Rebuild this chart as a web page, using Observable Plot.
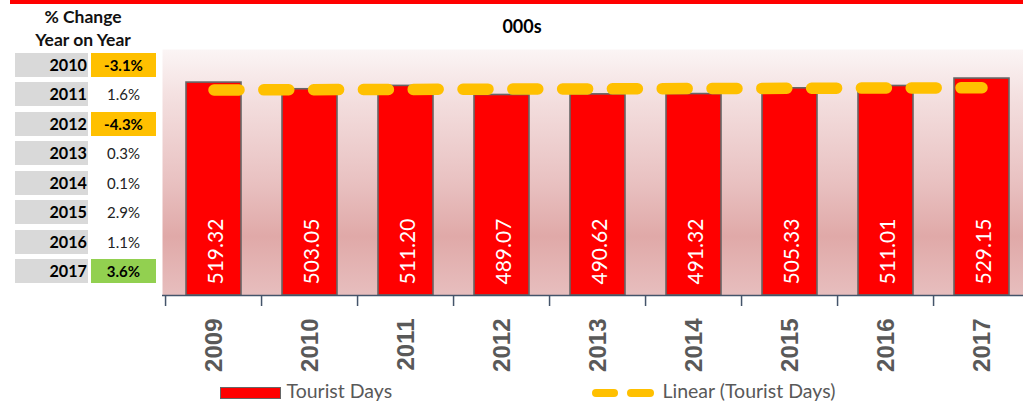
<!DOCTYPE html>
<html>
<head>
<meta charset="utf-8">
<script src="https://cdn.jsdelivr.net/npm/d3@7"></script>
<script src="https://cdn.jsdelivr.net/npm/@observablehq/plot@0.6"></script>
<style>
  html, body { margin: 0; padding: 0; background: #fff; }
  #wrap { position: relative; width: 1023px; height: 401px; overflow: hidden; font-family: Lato, "Open Sans", sans-serif; }
  .abs { position: absolute; }
  #stripe { left: 10px; top: 0; width: 1013px; height: 3.5px; background: #ff0000; }
  #title { left: 472px; width: 100px; top: 15px; text-align: center; font-weight: bold; font-size: 18px; line-height: 22px; color: #000; }
  #head { left: 13px; width: 140px; top: 6px; text-align: center; font-weight: bold; font-size: 17.5px; line-height: 22.5px; color: #111; }
  .cell { position: absolute; height: 24px; line-height: 24px; font-size: 15px; }
  .yr { left: 15px; width: 72.5px; background: #d9d9d9; text-align: right; font-weight: bold; color: #000; box-sizing: border-box; padding-right: 0.5px; font-size: 16.2px; }
  .val { left: 91px; width: 65px; text-align: center; color: #222; }
  .legtext { font-size: 19.5px; color: #595959; line-height: 20px; white-space: nowrap; }
  #plot { left: 0; top: 0; }
</style>
</head>
<body>
<div id="wrap">
  <div id="plot" class="abs"></div>
  <div id="stripe" class="abs"></div>
  <div id="title" class="abs">000s</div>
  <div id="head" class="abs">% Change<br>Year on Year</div>
  <div id="table"></div>
  <div id="legend"></div>
</div>
<script>
// ---- data ----
const years = ["2009", "2010", "2011", "2012", "2013", "2014", "2015", "2016", "2017"];
const touristDays = [519.32, 503.05, 511.20, 489.07, 490.62, 491.32, 505.33, 511.01, 529.15];
const trendYears = ["2009", "2017"];
const trendValues = [501.3, 506.7];
const changeYears = ["2010", "2011", "2012", "2013", "2014", "2015", "2016", "2017"];
const changeLabels = ["-3.1%", "1.6%", "-4.3%", "0.3%", "0.1%", "2.9%", "1.1%", "3.6%"];
const changeHighlight = ["orange", "", "orange", "", "", "", "", "green"];

const data = years.map((y, i) => ({year: y, value: touristDays[i], label: touristDays[i].toFixed(2)}));
const trend = trendYears.map((y, i) => ({year: y, value: trendValues[i]}));

// ---- layout ----
const W = 1023, H = 380;
const xRange = [162, 1034];
const step = (xRange[1] - xRange[0]) / years.length;

const chart = Plot.plot({
  width: W,
  height: H,
  marginTop: 49,
  marginBottom: 85,
  marginLeft: 162,
  marginRight: 0,
  style: {background: "transparent", overflow: "visible", fontFamily: "Lato, sans-serif"},
  x: {type: "band", domain: years, range: xRange, paddingInner: 0.426, paddingOuter: 0.213, axis: null},
  y: {domain: [0, 600], axis: null},
  marks: [
    Plot.frame({fill: "url(#bgGrad)", stroke: "none"}),
    Plot.barY(data, {x: "year", y: "value", fill: "#ff0000", stroke: "#666666", strokeWidth: 1.6}),
    Plot.text(data, {x: "year", text: "label", frameAnchor: "bottom", dy: -11, dx: 2, rotate: -90,
      textAnchor: "start", lineAnchor: "middle", fill: "#ffffff", fontSize: 21, fontFamily: "Lato, sans-serif"}),
    Plot.line(trend, {x: "year", y: "value", stroke: "#ffc000", strokeWidth: 11.5,
      strokeDasharray: "25,24.8", strokeLinecap: "round"}),
    Plot.ruleY([0], {stroke: "#44546a", strokeWidth: 1.5}),
    Plot.ruleX(years, {x: d => d, dx: -step / 2, insetTop: 246, insetBottom: -11, stroke: "#44546a", strokeWidth: 1.5}),
    Plot.text(years, {x: d => d, text: d => d, frameAnchor: "bottom", dy: 23, rotate: -90,
      textAnchor: "end", lineAnchor: "middle", fill: "#595959", fontSize: 24, fontWeight: "bold",
      fontFamily: "'Liberation Sans', Arial, sans-serif"})
  ]
});

d3.select(chart).insert("defs", ":first-child").html(`
  <linearGradient id="bgGrad" x1="0" y1="0" x2="0" y2="1">
    <stop offset="0" stop-color="#fbf5f5"/>
    <stop offset="0.21" stop-color="#f3dede"/>
    <stop offset="0.53" stop-color="#e9c2c2"/>
    <stop offset="0.76" stop-color="#e0a9a8"/>
    <stop offset="1" stop-color="#e7bebe"/>
  </linearGradient>`);
document.getElementById("plot").appendChild(chart);

// ---- year-on-year table ----
const table = document.getElementById("table");
const hl = {orange: "#ffc000", green: "#92d050"};
changeYears.forEach((y, i) => {
  const top = 52.7 + i * 29.5;
  const a = document.createElement("div");
  a.className = "cell yr";
  a.style.top = top + "px";
  a.textContent = y;
  table.appendChild(a);
  const b = document.createElement("div");
  b.className = "cell val";
  b.style.top = top + "px";
  b.textContent = changeLabels[i];
  if (changeHighlight[i]) {
    b.style.background = hl[changeHighlight[i]];
    b.style.fontWeight = "bold";
    b.style.color = "#000";
  }
  table.appendChild(b);
});

// ---- legend ----
const legend = document.getElementById("legend");
legend.innerHTML = `
  <div class="abs" style="left:220px;top:387px;width:61px;height:12px;background:#ff0000;border:1.6px solid #666;box-sizing:border-box"></div>
  <div class="abs legtext" style="left:286.5px;top:381px">Tourist Days</div>
  <div class="abs" style="left:591.5px;top:388.7px;width:26px;height:8px;background:#ffc000;border-radius:4px"></div>
  <div class="abs" style="left:626.5px;top:388.7px;width:27px;height:8px;background:#ffc000;border-radius:4px"></div>
  <div class="abs legtext" style="left:662.5px;top:381px">Linear (Tourist Days)</div>`;
</script>
</body>
</html>
